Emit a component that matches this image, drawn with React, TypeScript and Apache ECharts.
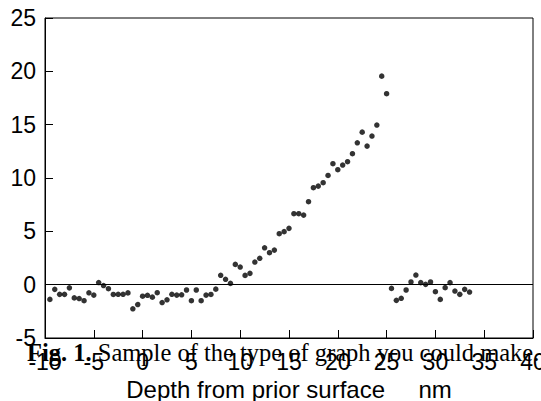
import React, { useEffect, useRef } from "react";
import * as echarts from "echarts";

const depth: number[] = [
  -9.5, -9, -8.5, -8, -7.5, -7, -6.5, -6, -5.5, -5, -4.5, -4, -3.5, -3, -2.5, -2, -1.5, -1, -0.5, 0,
  0.5, 1, 1.5, 2, 2.5, 3, 3.5, 4, 4.5, 5, 5.5, 6, 6.5, 7, 7.5, 8, 8.5, 9,
  9.5, 10, 10.5, 11, 11.5, 12, 12.5, 13, 13.5, 14, 14.5, 15, 15.5, 16, 16.5, 17, 17.5, 18, 18.5, 19,
  19.5, 20, 20.5, 21, 21.5, 22, 22.5, 23, 23.5, 24, 24.5, 25,
  25.5, 26, 26.5, 27, 27.5, 28, 28.5, 29, 29.5, 30, 30.5, 31, 31.5, 32, 32.5, 33, 33.5,
];

const signal: number[] = [
  -1.38, -0.44, -0.91, -0.91, -0.3, -1.24, -1.3, -1.5, -0.76, -0.98, 0.2, -0.08, -0.38, -0.92, -0.9, -0.9, -0.77, -2.26, -1.86, -1.08,
  -1.0, -1.17, -0.75, -1.68, -1.42, -0.9, -0.98, -0.95, -0.5, -1.5, -0.5, -1.5, -0.98, -0.92, -0.42, 0.88, 0.5, 0.12,
  1.9, 1.65, 0.87, 1.06, 2.12, 2.47, 3.46, 3.0, 3.24, 4.78, 4.97, 5.28, 6.65, 6.65, 6.52, 7.78, 9.09, 9.24, 9.56, 10.24,
  11.34, 10.78, 11.21, 11.53, 12.28, 13.3, 14.3, 12.99, 13.93, 14.96, 19.55, 17.9,
  -0.35, -1.47, -1.28, -0.5, 0.25, 0.9, 0.19, 0.03, 0.25, -0.66, -1.38, -0.28, 0.19, -0.6, -0.91, -0.44, -0.69,
];

const xTicks = { min: -10, max: 40, step: 5 };
const yTicks = { min: -5, max: 25, step: 5 };

const xTitle = "Depth from prior surface     nm";
const captionBold = "Fig. 1.";
const captionRest = " Sample of the type of graph you could make.";

export default function App() {
  const ref = useRef<HTMLDivElement>(null);

  useEffect(() => {
    document.body.style.margin = "0";
    const chart = echarts.init(ref.current!, undefined, { renderer: "svg" });
    const points = depth.map((d, i) => [d, signal[i]]);
    const sans = "Liberation Sans";
    const serif = "Liberation Serif";
    chart.setOption({
      animation: false,
      backgroundColor: "#fff",
      title: {
        text: "{b|" + captionBold + "}" + captionRest,
        left: 27,
        top: 340,
        padding: 0,
        textStyle: {
          fontFamily: serif,
          fontSize: 24.5,
          fontWeight: "normal",
          color: "#000",
          rich: {
            b: { fontFamily: serif, fontSize: 24.5, fontWeight: "bold", color: "#000" },
          },
        },
      },
      grid: {
        left: 45,
        right: 8,
        top: 18,
        bottom: 63,
        outerBoundsMode: "none",
        containLabel: false,
        show: true,
        borderColor: "#000",
        borderWidth: 1,
        backgroundColor: "transparent",
      },
      xAxis: {
        type: "value",
        min: xTicks.min,
        max: xTicks.max,
        interval: xTicks.step,
        name: xTitle,
        nameLocation: "middle",
        nameGap: 40,
        nameTextStyle: { fontFamily: sans, fontSize: 24, lineHeight: 20, color: "#000" },
        axisLine: { show: true, onZero: false, lineStyle: { color: "#000", width: 1 } },
        axisTick: { show: true, inside: true, length: 8, lineStyle: { color: "#000" } },
        axisLabel: { fontFamily: sans, fontSize: 23, color: "#000", margin: 12 },
        splitLine: { show: false },
      },
      yAxis: {
        type: "value",
        min: yTicks.min,
        max: yTicks.max,
        interval: yTicks.step,
        axisLine: { show: true, onZero: false, lineStyle: { color: "#000", width: 1 } },
        axisTick: { show: true, inside: true, length: 8, lineStyle: { color: "#000" } },
        axisLabel: { fontFamily: sans, fontSize: 23, color: "#000", margin: 9 },
        splitLine: { show: false },
      },
      series: [
        {
          type: "scatter",
          data: points,
          symbol: "circle",
          symbolSize: 5.5,
          itemStyle: { color: "#000" },
          markLine: {
            silent: true,
            symbol: "none",
            label: { show: false },
            lineStyle: { color: "#000", type: "solid", width: 1 },
            data: [{ yAxis: 0 }],
          },
        },
      ],
    });
    return () => chart.dispose();
  }, []);

  return (
    <div
      ref={ref}
      style={{ position: "fixed", left: 0, top: 0, width: 541, height: 401 }}
    />
  );
}
